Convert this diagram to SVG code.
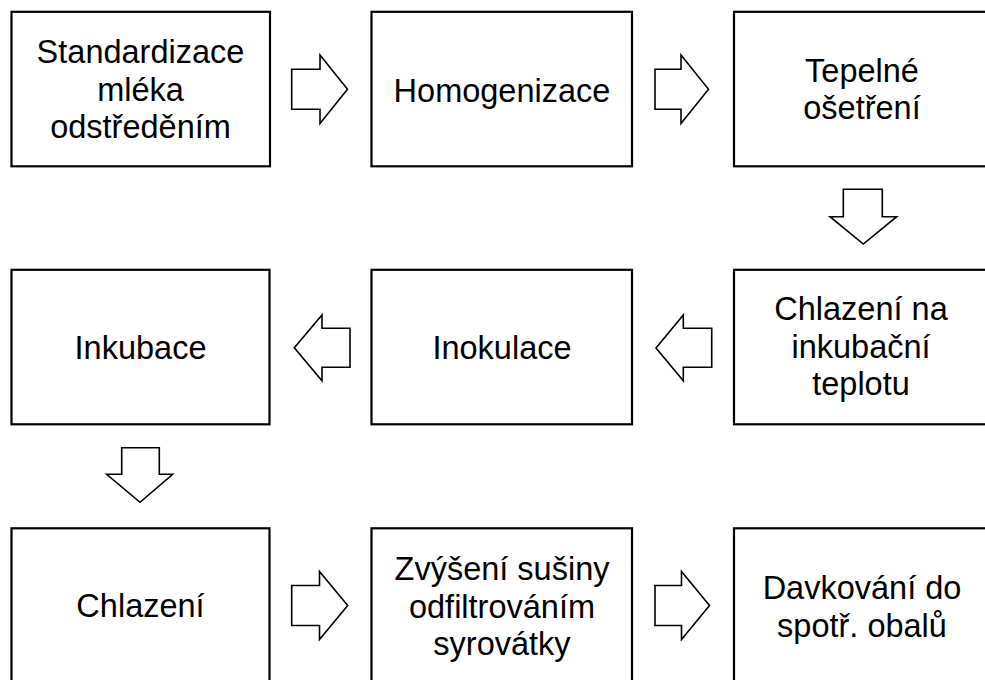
<svg xmlns="http://www.w3.org/2000/svg" width="985" height="680" viewBox="0 0 985 680">
  <style>
    .box { fill: #ffffff; stroke: #000000; stroke-width: 2.2; }
    .arrow { fill: #ffffff; stroke: #000000; stroke-width: 1.6; stroke-linejoin: miter; }
    .label { font-family: "Liberation Sans", Arial, sans-serif; font-size: 32.5px; fill: #000000; text-anchor: middle; }
  </style>
  <rect width="985" height="680" fill="#ffffff"/>

  <!-- block arrows between the steps -->
  <g id="connectors">
    <!-- row 1, pointing right -->
    <polygon class="arrow" points="291.7,69.3 320,69.3 320,55 347.5,89.3 320,123.5 320,109.3 291.7,109.3"/>
    <polygon class="arrow" points="655,69.3 681,69.3 681,55 708.5,89.3 681,123.5 681,109.3 655,109.3"/>
    <!-- column 3, pointing down -->
    <polygon class="arrow" points="843.3,189.3 882.3,189.3 882.3,216.7 896.7,216.7 863.3,244 830,216.7 843.3,216.7"/>
    <!-- row 2, pointing left -->
    <polygon class="arrow" points="350,328.3 322,328.3 322,315 294.3,347.7 322,380.7 322,367.3 350,367.3"/>
    <polygon class="arrow" points="711.7,328.3 683.3,328.3 683.3,315 656,348 683.3,380.7 683.3,367.3 711.7,367.3"/>
    <!-- column 1, pointing down -->
    <polygon class="arrow" points="121.7,447.7 159.3,447.7 159.3,474.3 172.7,474.3 140,502.3 106.7,474.3 121.7,474.3"/>
    <!-- row 3, pointing right -->
    <polygon class="arrow" points="291.7,585.5 319.5,585.5 319.5,571.5 347.7,605.5 319.5,639.5 319.5,625.5 291.7,625.5"/>
    <polygon class="arrow" points="655,585.5 681.5,585.5 681.5,571.5 709.5,605.5 681.5,639.5 681.5,625.5 655,625.5"/>
  </g>

  <!-- row 1 -->
  <g id="standardizace">
    <rect class="box" x="11.5" y="11.8" width="258.5" height="154.5"/>
    <text class="label" x="140.5" y="63.3">Standardizace</text>
    <text class="label" x="140.5" y="101">mléka</text>
    <text class="label" x="140.5" y="138.3">odstředěním</text>
  </g>
  <g id="homogenizace">
    <rect class="box" x="371.5" y="11.8" width="260.5" height="154.5"/>
    <text class="label" x="502" y="101.7">Homogenizace</text>
  </g>
  <g id="tepelne-osetreni">
    <rect class="box" x="734" y="11.8" width="262" height="154.5"/>
    <text class="label" x="862" y="81.7">Tepelné</text>
    <text class="label" x="862" y="119.3">ošetření</text>
  </g>

  <!-- row 2 -->
  <g id="inkubace">
    <rect class="box" x="11.5" y="269.8" width="258" height="154.5"/>
    <text class="label" x="140.5" y="358.5">Inkubace</text>
  </g>
  <g id="inokulace">
    <rect class="box" x="371.5" y="269.8" width="260.5" height="154.5"/>
    <text class="label" x="502" y="358.5">Inokulace</text>
  </g>
  <g id="chlazeni-na-inkubacni-teplotu">
    <rect class="box" x="734" y="269.8" width="262" height="154.5"/>
    <text class="label" x="861" y="320">Chlazení na</text>
    <text class="label" x="861" y="357.7">inkubační</text>
    <text class="label" x="861" y="395">teplotu</text>
  </g>

  <!-- row 3 -->
  <g id="chlazeni">
    <rect class="box" x="11.5" y="528.3" width="258" height="160"/>
    <text class="label" x="140.5" y="617">Chlazení</text>
  </g>
  <g id="zvyseni-susiny">
    <rect class="box" x="371.5" y="528.3" width="260.5" height="160"/>
    <text class="label" x="502" y="580">Zvýšení sušiny</text>
    <text class="label" x="502" y="617.5">odfiltrováním</text>
    <text class="label" x="502" y="655">syrovátky</text>
  </g>
  <g id="davkovani">
    <rect class="box" x="734" y="528.3" width="262" height="160"/>
    <text class="label" x="862" y="599">Davkování do</text>
    <text class="label" x="862" y="636.5">spotř. obalů</text>
  </g>
</svg>
